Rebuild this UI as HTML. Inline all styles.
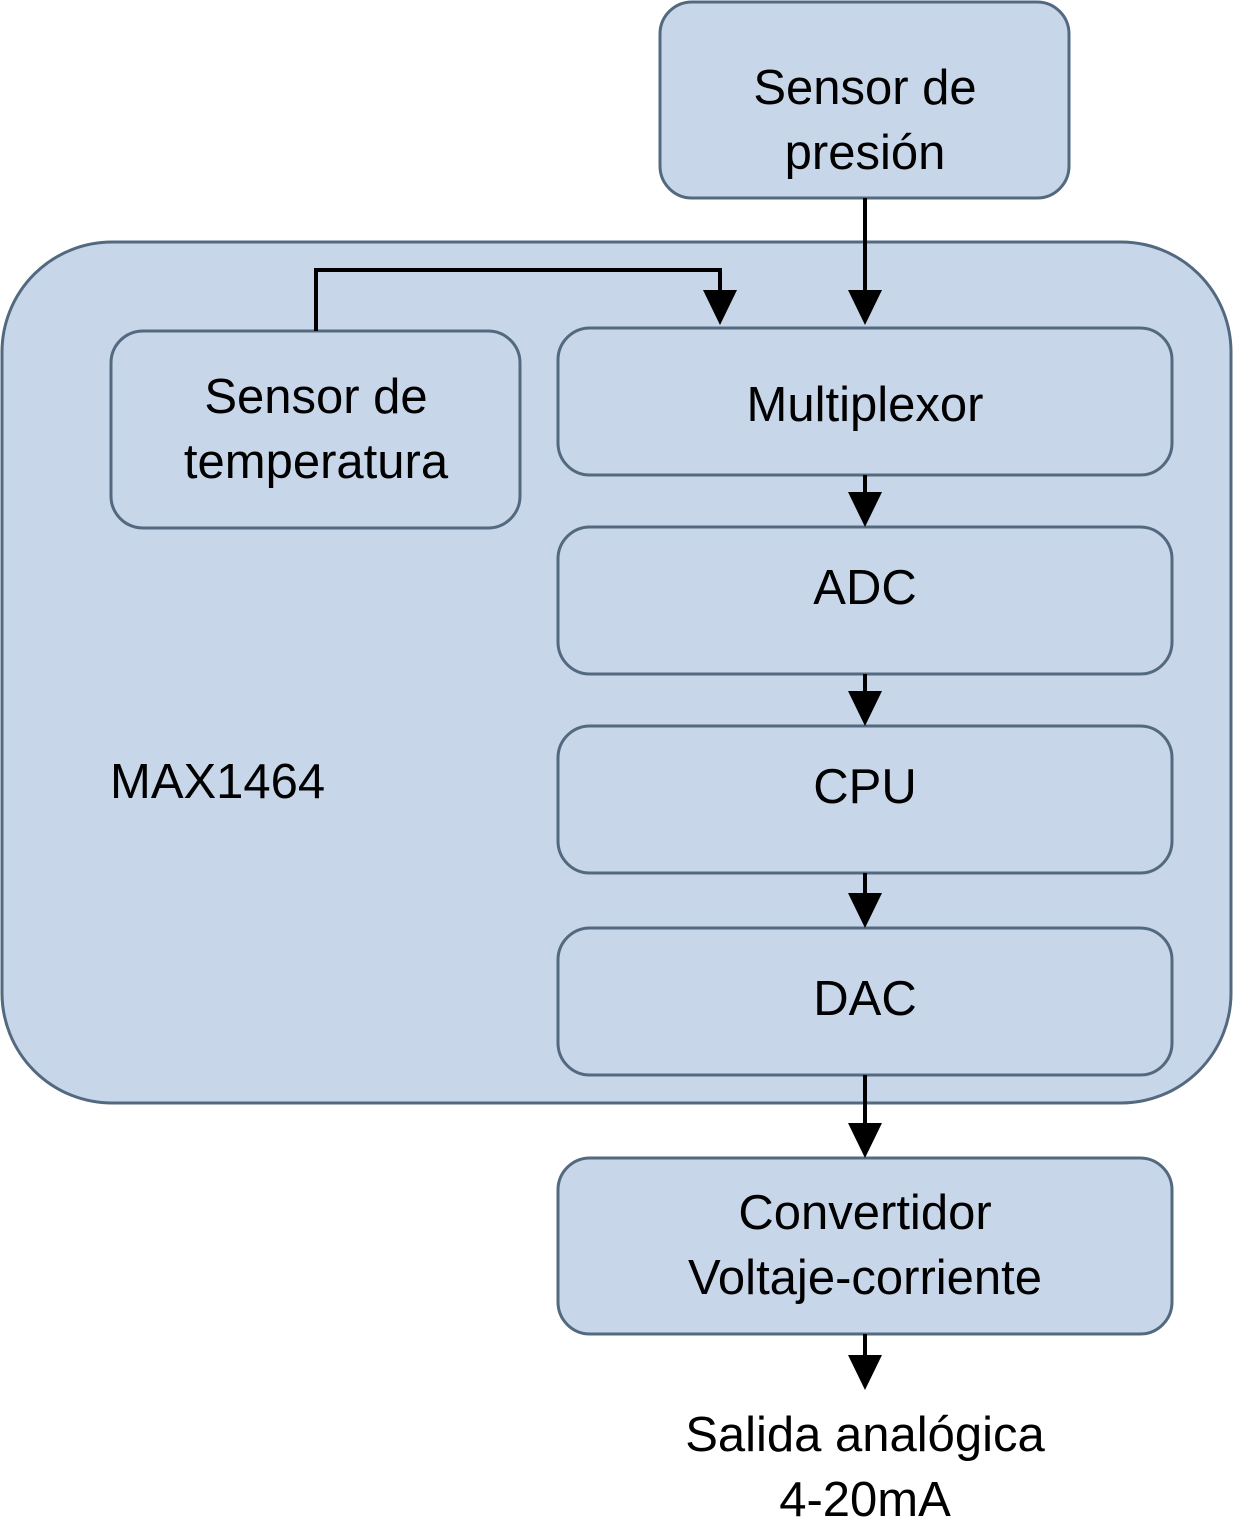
<!DOCTYPE html>
<html><head><meta charset="utf-8"><style>body{margin:0;background:#fff}svg{display:block}</style></head><body>
<svg width="1233" height="1531" viewBox="0 0 1233 1531" xmlns="http://www.w3.org/2000/svg" font-family="Liberation Sans, Arial, sans-serif" font-size="49" text-anchor="middle">
<g fill="#c8d6e9" stroke="#52697f" stroke-width="3">
<rect x="2" y="242" width="1229" height="861" rx="110"/>
<rect x="660" y="2" width="409" height="196" rx="32"/>
<rect x="111" y="331" width="409" height="197" rx="32"/>
<rect x="558" y="328" width="614" height="147" rx="32"/>
<rect x="558" y="527" width="614" height="147" rx="32"/>
<rect x="558" y="726" width="614" height="147" rx="32"/>
<rect x="558" y="928" width="614" height="147" rx="32"/>
<rect x="558" y="1158" width="614" height="176" rx="32"/>
</g>
<g stroke="#000" stroke-width="4" fill="none">
<path d="M865 198V292"/>
<path d="M316 331V270H720V292"/>
<path d="M865 475V494"/>
<path d="M865 674V693"/>
<path d="M865 873V895"/>
<path d="M865 1075V1125"/>
<path d="M865 1334V1357"/>
</g>
<g fill="#000">
<path d="M848 290H882L865 325Z"/>
<path d="M703 290H737L720 325Z"/>
<path d="M848 492H882L865 527Z"/>
<path d="M848 691H882L865 726Z"/>
<path d="M848 893H882L865 928Z"/>
<path d="M848 1123H882L865 1158Z"/>
<path d="M848 1355H882L865 1390Z"/>
</g>
<g fill="#000" dominant-baseline="central">
<text x="865" y="88">Sensor de</text>
<text x="865" y="153">presión</text>
<text x="316" y="397">Sensor de</text>
<text x="316" y="462">temperatura</text>
<text x="865" y="405">Multiplexor</text>
<text x="865" y="588">ADC</text>
<text x="865" y="787">CPU</text>
<text x="865" y="999">DAC</text>
<text x="865" y="1213">Convertidor</text>
<text x="865" y="1278">Voltaje-corriente</text>
<text x="865" y="1435">Salida analógica</text>
<text x="865" y="1500">4-20mA</text>
<text x="110" y="782" text-anchor="start">MAX1464</text>
</g>
</svg>
</body></html>
